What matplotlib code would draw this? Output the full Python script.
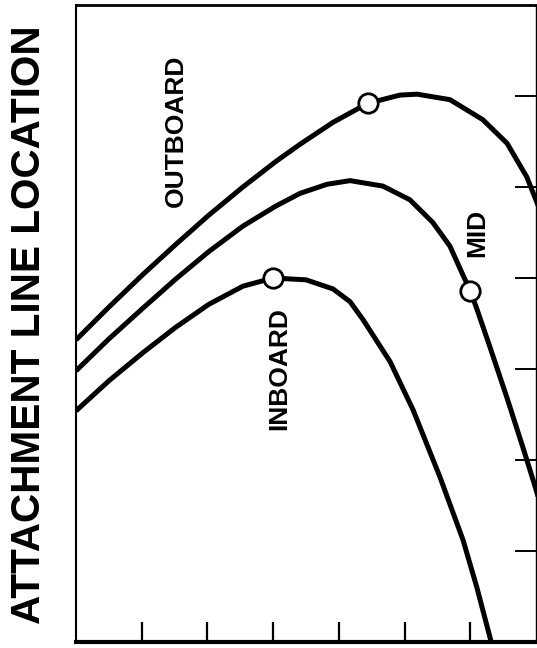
import matplotlib.pyplot as plt

# curves (x along span, y attachment line location)
outboard_x = [0.0, 0.50, 1.02, 1.52, 2.02, 2.54, 3.04, 3.41, 3.91, 4.44, 4.93, 5.19, 5.69, 6.19, 6.56, 6.86, 7.02, 7.14]
outboard_y = [3.32, 3.68, 4.04, 4.37, 4.69, 5.00, 5.28, 5.47, 5.71, 5.92, 6.01, 6.02, 5.96, 5.74, 5.48, 5.11, 4.82, 4.55]

mid_x = [0.0, 0.50, 1.02, 1.52, 2.02, 2.54, 3.04, 3.41, 3.82, 4.17, 4.67, 5.08, 5.43, 5.69, 5.89, 6.0, 6.10, 6.30, 6.56, 6.80, 6.96, 7.06]
mid_y = [2.98, 3.33, 3.67, 3.99, 4.29, 4.57, 4.79, 4.93, 5.03, 5.07, 5.01, 4.86, 4.61, 4.35, 4.03, 3.86, 3.66, 3.24, 2.68, 2.14, 1.77, 1.53]

inboard_x = [0.0, 0.50, 1.02, 1.52, 2.02, 2.54, 3.0, 3.50, 3.91, 4.17, 4.37, 4.78, 5.13, 5.54, 5.89, 6.10, 6.30, 6.40]
inboard_y = [2.54, 2.87, 3.18, 3.46, 3.71, 3.91, 4.00, 3.98, 3.88, 3.74, 3.54, 3.08, 2.55, 1.81, 1.12, 0.60, 0.05, -0.22]

# open circle markers
marker_x = [4.44, 6.0, 3.0]
marker_y = [5.92, 3.86, 4.0]

labels = ['OUTBOARD', 'MID', 'INBOARD']
label_x = [1.52, 6.10, 3.10]
label_y = [5.62, 4.49, 3.01]

x_ticks = [1, 2, 3, 4, 5, 6]
y_ticks = [1, 2, 3, 4, 5, 6]

font = 'Liberation Sans'

fig = plt.figure(figsize=(5.37, 6.48), dpi=100)
ax = fig.add_axes([76 / 537, 6 / 648, 460 / 537, 637 / 648])

for xs, ys in [(outboard_x, outboard_y), (mid_x, mid_y), (inboard_x, inboard_y)]:
    ax.plot(xs, ys, color='black', lw=3.6, solid_joinstyle='round', solid_capstyle='butt')

ax.plot(marker_x, marker_y, 'o', ms=14, mfc='white', mec='black', mew=2.0, zorder=5)

for t, x, y in zip(labels, label_x, label_y):
    ax.text(x, y, t, rotation=90, ha='center', va='center',
            fontsize=19, fontweight='bold', family=font)

ax.set_xlim(0, 7)
ax.set_ylim(0, 7)
ax.set_xticks(x_ticks)
ax.set_yticks(y_ticks)
ax.tick_params(axis='x', direction='in', length=14.5, width=1.6, labelbottom=False)
ax.tick_params(axis='y', direction='in', length=15, width=1.4, left=False, right=True,
               labelleft=False, labelright=False)

ax.spines['left'].set_linewidth(1.5)
ax.spines['bottom'].set_linewidth(3.0)
ax.spines['top'].set_linewidth(2.0)
ax.spines['right'].set_linewidth(1.0)

fig.text(29 / 537, 1 - 325 / 648, 'ATTACHMENT LINE LOCATION', rotation=90,
         ha='center', va='center', fontsize=29.2, fontweight='bold', family=font)

fig.savefig('out.png', dpi=100)
